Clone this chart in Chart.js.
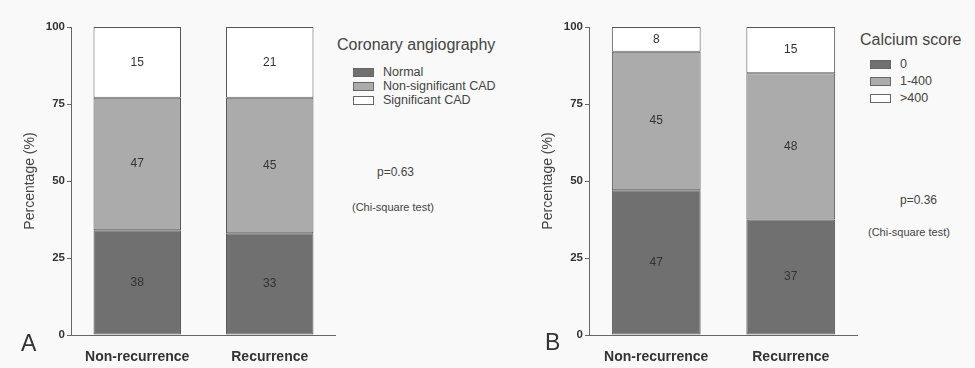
<!DOCTYPE html>
<html>
<head>
<meta charset="utf-8">
<script src="https://cdn.jsdelivr.net/npm/chart.js@4"></script>
<style>
  body { margin: 0; background: #f9f9f9; font-family: "Liberation Sans", Arial, sans-serif; }
  #wrap { position: relative; width: 975px; height: 368px; overflow: hidden; }
  canvas { position: absolute; top: 0; }
  .txt { position: absolute; color: #444; white-space: nowrap; line-height: 1; }
  .box { display: inline-block; width: 19px; height: 7px; border: 1px solid #666; vertical-align: middle; margin-right: 9px; }
  .letter { position: absolute; font-size: 23px; color: #333; line-height: 1; }
</style>
</head>
<body>
<div id="wrap">
  <canvas id="chartA" width="336" height="368" style="left:0"></canvas>
  <canvas id="chartB" width="340" height="368" style="left:518px"></canvas>

  <div class="letter" style="left:21px;top:332px">A</div>
  <div class="letter" style="left:545px;top:331px">B</div>

  <div class="txt" style="left:337px;top:37px;font-size:16px">Coronary angiography</div>
  <div class="txt" style="left:353px;top:66px;font-size:12.5px"><span class="box" style="background:#707070"></span>Normal</div>
  <div class="txt" style="left:353px;top:80px;font-size:12.5px"><span class="box" style="background:#ababab"></span>Non-significant CAD</div>
  <div class="txt" style="left:353px;top:94px;font-size:12.5px"><span class="box" style="background:#ffffff"></span>Significant CAD</div>
  <div class="txt" style="left:377px;top:166px;font-size:12px">p=0.63</div>
  <div class="txt" style="left:352px;top:202px;font-size:11px">(Chi-square test)</div>

  <div class="txt" style="left:860px;top:32px;font-size:16px">Calcium score</div>
  <div class="txt" style="left:870px;top:58px;font-size:12.5px"><span class="box" style="background:#707070"></span>0</div>
  <div class="txt" style="left:870px;top:75px;font-size:12.5px"><span class="box" style="background:#ababab"></span>1-400</div>
  <div class="txt" style="left:870px;top:92px;font-size:12.5px"><span class="box" style="background:#ffffff"></span>&gt;400</div>
  <div class="txt" style="left:900px;top:194px;font-size:12px">p=0.36</div>
  <div class="txt" style="left:868px;top:227px;font-size:11px">(Chi-square test)</div>
</div>

<script>
// categories
const categories = ['Non-recurrence', 'Recurrence'];
const yTicks = [0, 25, 50, 75, 100];

// A - coronary angiography, bar heights (%)
const normalA = [34, 33];
const nonSigA = [43, 44];
const sigA = [23, 23];
// numbers printed inside the bars
const normalALabels = ['38', '33'];
const nonSigALabels = ['47', '45'];
const sigALabels = ['15', '21'];

// B - calcium score (%)
const zeroB = [47, 37.5];
const lowB = [45, 47.5];
const highB = [8, 15];
const zeroBLabels = ['47', '37'];
const lowBLabels = ['45', '48'];
const highBLabels = ['8', '15'];

const colDark = '#707070';
const colMid = '#ababab';
const colWhite = '#ffffff';
const edge = '#555';

// ecrit les chiffres au milieu de chaque segment
const segmentLabels = {
  id: 'segmentLabels',
  afterDatasetsDraw(chart) {
    const ctx = chart.ctx;
    ctx.save();
    ctx.font = '12px "Liberation Sans", Arial, sans-serif';
    ctx.fillStyle = '#333';
    ctx.textAlign = 'center';
    ctx.textBaseline = 'middle';
    chart.data.datasets.forEach((ds, i) => {
      chart.getDatasetMeta(i).data.forEach((bar, j) => {
        const mid = (bar.y + bar.base) / 2;
        ctx.fillText(ds.segLabels[j], bar.x, mid);
      });
    });
    ctx.restore();
  }
};

function makeDataset(values, labels, color) {
  return {
    data: values,
    segLabels: labels,
    backgroundColor: color,
    borderColor: edge,
    borderWidth: 1,
    borderSkipped: false,
    barPercentage: 0.66,
    categoryPercentage: 1
  };
}

function makeConfig(datasets) {
  return {
    type: 'bar',
    data: { labels: categories, datasets: datasets },
    plugins: [segmentLabels],
    options: {
      responsive: false,
      animation: false,
      layout: { padding: { top: 27, right: 0, left: 0, bottom: 0 } },
      plugins: { legend: { display: false }, tooltip: { enabled: false } },
      scales: {
        x: {
          stacked: true,
          grid: { display: false, drawTicks: false },
          border: { display: true, color: '#666', width: 1 },
          ticks: {
            padding: 14,
            color: '#333',
            font: { family: '"Liberation Sans", Arial, sans-serif', size: 14, weight: 'bold' }
          },
          afterFit: s => { s.height = 33; }
        },
        y: {
          stacked: true,
          min: 0,
          max: 100,
          afterBuildTicks: s => { s.ticks = yTicks.map(v => ({ value: v })); },
          grid: { drawOnChartArea: false, drawTicks: true, tickLength: 4, color: '#666' },
          border: { display: true, color: '#666', width: 1 },
          ticks: {
            padding: 2,
            color: '#333',
            font: { family: '"Liberation Sans", Arial, sans-serif', size: 11.5, weight: 'bold' }
          },
          title: {
            display: true,
            text: 'Percentage (%)',
            color: '#444',
            padding: { top: 22, bottom: 0 },
            font: { family: '"Liberation Sans", Arial, sans-serif', size: 14 }
          },
          afterFit: s => { s.width = 71; }
        }
      }
    }
  };
}

new Chart(document.getElementById('chartA'), makeConfig([
  makeDataset(normalA, normalALabels, colDark),
  makeDataset(nonSigA, nonSigALabels, colMid),
  makeDataset(sigA, sigALabels, colWhite)
]));

new Chart(document.getElementById('chartB'), makeConfig([
  makeDataset(zeroB, zeroBLabels, colDark),
  makeDataset(lowB, lowBLabels, colMid),
  makeDataset(highB, highBLabels, colWhite)
]));
</script>
</body>
</html>
